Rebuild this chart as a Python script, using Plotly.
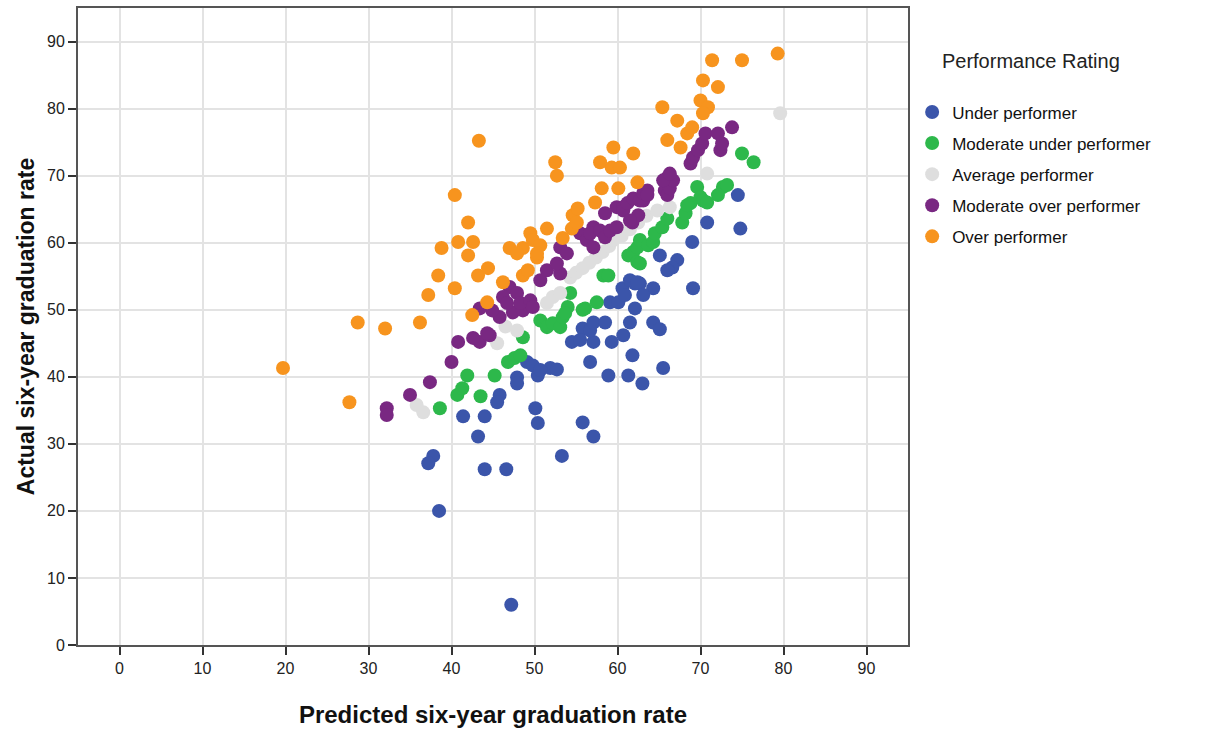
import plotly.graph_objects as go

# ---- Data ----
under_x = [47.2, 38.5, 37.8, 37.2, 43.2, 44.0, 46.6, 41.4, 44.0, 45.8, 45.5, 47.9, 47.9, 50.1, 50.4,
           53.3, 55.8, 57.1, 49.1, 49.8, 50.4, 51.9, 52.7, 54.5, 57.1, 59.3, 60.7, 56.7, 61.8, 58.9,
           61.3, 63.0, 65.5, 64.3, 65.1, 55.8, 56.7, 57.1, 58.5, 61.5, 62.1, 59.1, 60.1, 60.6, 60.9,
           62.1, 62.7, 64.3, 63.1, 61.5, 62.4, 69.1, 65.1, 67.2, 66.6, 66.0, 69.0, 70.8, 74.5, 74.8,
           55.5, 50.7]
under_y = [6.0, 20.0, 28.2, 27.1, 31.1, 26.2, 26.2, 34.1, 34.1, 37.3, 36.2, 39.9, 39.0, 35.3, 33.1,
           28.2, 33.2, 31.1, 42.2, 41.7, 40.2, 41.3, 41.1, 45.2, 45.2, 45.2, 46.2, 42.2, 43.2, 40.2,
           40.2, 39.0, 41.3, 48.1, 47.1, 47.2, 46.9, 48.1, 48.1, 48.1, 50.2, 51.1, 51.1, 53.2, 52.2,
           53.9, 53.9, 53.2, 52.2, 54.4, 54.1, 53.2, 58.1, 57.4, 56.3, 55.9, 60.1, 63.0, 67.1, 62.1,
           45.5, 41.0]

mod_under_x = [38.6, 40.7, 41.3, 41.9, 43.5, 45.2, 46.8, 47.6, 48.3, 48.6, 50.7, 51.5, 52.2, 53.1,
               53.4, 54.0, 53.7, 54.3, 56.1, 57.5, 55.8, 58.3, 58.9, 61.3, 61.9, 62.4, 62.7, 62.4,
               62.7, 63.7, 64.3, 64.5, 65.4, 66.0, 67.8, 68.2, 68.8, 69.6, 70.0, 72.7, 72.1, 75.0,
               76.4, 70.3, 68.4, 73.2, 70.8]
mod_under_y = [35.3, 37.3, 38.3, 40.2, 37.1, 40.2, 42.2, 42.8, 43.2, 45.9, 48.4, 47.4, 48.0, 47.4,
               48.9, 50.4, 49.5, 52.5, 50.2, 51.1, 50.0, 55.1, 55.1, 58.1, 58.6, 59.3, 60.4, 57.1,
               56.9, 59.6, 60.1, 61.4, 62.3, 63.6, 63.0, 64.4, 65.9, 68.3, 66.8, 68.3, 67.1, 73.3,
               72.0, 66.3, 65.6, 68.6, 66.0]

average_x = [35.8, 36.6, 45.5, 46.5, 47.9, 51.5, 52.2, 53.1, 54.3, 55.0, 55.8, 56.6, 57.4, 58.2,
             59.0, 59.5, 60.5, 61.5, 62.5, 63.5, 64.8, 66.3, 70.8, 79.6]
average_y = [35.8, 34.7, 45.0, 47.5, 46.9, 51.0, 51.9, 52.5, 54.8, 55.5, 56.2, 57.0, 57.8, 58.6,
             59.5, 60.4, 61.0, 62.0, 63.0, 64.0, 64.8, 65.3, 70.3, 79.3]

mod_over_x = [32.2, 32.2, 35.0, 37.4, 40.0, 40.8, 43.4, 44.6, 42.6, 44.3, 45.8, 44.9, 43.4, 47.4,
              48.6, 47.0, 47.9, 46.2, 46.7, 48.3, 49.5, 49.8, 50.7, 51.5, 53.1, 52.7, 53.1, 53.9,
              55.5, 56.3, 57.1, 57.1, 56.7, 57.9, 58.5, 59.1, 59.9, 58.5, 59.9, 60.7, 60.7, 61.2,
              61.8, 62.5, 61.5, 61.9, 62.7, 63.1, 63.1, 63.6, 63.6, 65.7, 66.0, 66.0, 66.3, 66.7,
              65.5, 66.3, 68.8, 69.1, 69.7, 70.2, 72.4, 72.6, 70.6, 72.1, 73.8]
mod_over_y = [35.3, 34.3, 37.3, 39.2, 42.2, 45.2, 45.2, 46.2, 45.8, 46.5, 48.9, 49.9, 50.2, 49.6,
              49.9, 53.4, 52.5, 51.9, 51.0, 51.0, 51.4, 50.4, 54.4, 55.9, 55.4, 56.9, 59.3, 58.4,
              61.4, 60.4, 59.3, 62.3, 61.4, 61.8, 60.8, 61.8, 62.3, 64.4, 65.3, 65.3, 64.8, 65.9,
              63.0, 64.1, 63.3, 66.6, 66.3, 66.3, 67.4, 67.8, 67.1, 67.8, 69.7, 67.1, 68.1, 69.3,
              69.3, 70.3, 71.8, 72.7, 73.8, 74.8, 73.8, 74.8, 76.3, 76.3, 77.2]

over_x = [19.7, 27.7, 28.7, 32.0, 36.2, 37.2, 38.4, 38.8, 40.4, 40.4, 40.8, 42.0, 42.0, 42.6, 42.5,
          43.2, 44.4, 44.3, 43.3, 46.2, 47.0, 48.6, 48.6, 49.2, 47.9, 49.5, 49.8, 50.3, 50.7, 50.3,
          51.5, 53.4, 54.5, 54.6, 55.1, 55.2, 57.3, 52.5, 52.7, 57.9, 59.3, 60.3, 59.5, 61.9, 58.1,
          60.1, 62.4, 65.4, 66.0, 67.2, 67.6, 68.4, 69.0, 70.0, 70.9, 70.3, 70.3, 72.1, 71.4, 75.0,
          79.3]
over_y = [41.3, 36.2, 48.1, 47.2, 48.1, 52.2, 55.1, 59.2, 53.2, 67.1, 60.1, 63.0, 58.1, 60.1, 49.2,
          55.1, 56.2, 51.1, 75.2, 54.1, 59.2, 59.2, 55.1, 55.9, 58.4, 61.4, 60.4, 57.8, 59.6, 58.4,
          62.1, 60.7, 62.1, 64.1, 63.0, 65.1, 66.0, 72.0, 70.0, 72.0, 71.2, 71.2, 74.2, 73.3, 68.1,
          68.1, 69.0, 80.2, 75.3, 78.2, 74.2, 76.3, 77.2, 81.2, 80.2, 79.3, 84.2, 83.2, 87.2, 87.2,
          88.2]

series = [
    ("Under performer", under_x, under_y, "#3B55AA"),
    ("Moderate under performer", mod_under_x, mod_under_y, "#2DB84B"),
    ("Average performer", average_x, average_y, "#DEDEDE"),
    ("Moderate over performer", mod_over_x, mod_over_y, "#792882"),
    ("Over performer", over_x, over_y, "#F7941E"),
]

tick_vals = [0, 10, 20, 30, 40, 50, 60, 70, 80, 90]

FONT = "Liberation Sans, Arial, sans-serif"

fig = go.Figure()
for i, (name, xs, ys, col) in enumerate(series):
    fig.add_trace(go.Scatter(
        x=xs, y=ys, mode="markers", name=name, legendgroup=str(i),
        marker=dict(size=14, color=col, line=dict(width=0)),
    ))

axis_common = dict(
    tickmode="array", tickvals=tick_vals, ticks="outside", ticklen=8, tickwidth=1.5,
    tickcolor="#333333", showgrid=True, gridcolor="#E3E3E3", gridwidth=2,
    showline=True, linecolor="#555555", linewidth=2, mirror=True, zeroline=False,
    tickfont=dict(family=FONT, size=16, color="#222222"),
)

fig.update_layout(
    width=1212, height=730,
    margin=dict(l=78, r=304, t=8, b=85),
    paper_bgcolor="white", plot_bgcolor="white",
    font=dict(family=FONT, color="#111111"),
    xaxis=dict(range=[-5, 95], **axis_common, automargin=False,
               title=dict(text="<b>Predicted six-year graduation rate</b>",
                          font=dict(size=24, family=FONT, color="#111111"),
                          standoff=30)),
    yaxis=dict(range=[0, 95], **axis_common,
               title=dict(text="<b>Actual six-year graduation rate</b>",
                          font=dict(size=23, family=FONT, color="#111111"),
                          standoff=6)),
    legend=dict(
        x=1.005, xanchor="left", y=0.946, yanchor="top",
        title=dict(text="     Performance Rating<br> ", font=dict(size=20, color="#222222")),
        font=dict(size=17, color="#111111"),
        tracegroupgap=6, itemsizing="trace", bgcolor="rgba(0,0,0,0)",
    ),
)

fig.write_html("out.html")
